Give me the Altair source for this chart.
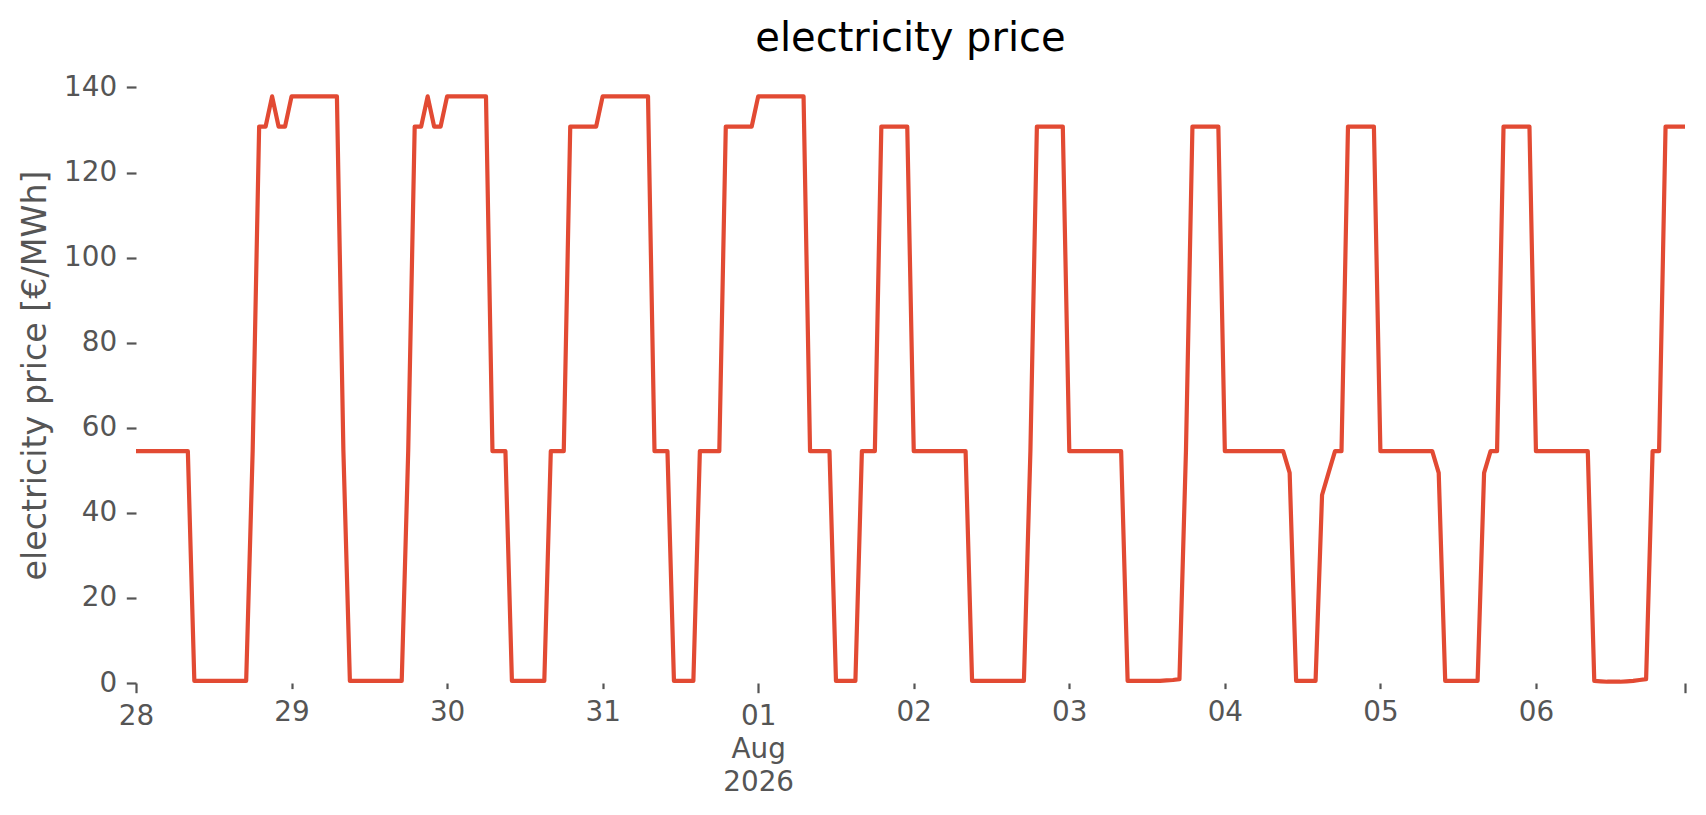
import altair as alt
import pandas as pd

# hourly electricity price [€/MWh], one list per day (00:00 ... 23:00)
start = "2026-07-28 00:00"
jul28 = [54.5, 54.5, 54.5, 54.5, 54.5, 54.5, 54.5, 54.5, 54.5, 0.5, 0.5, 0.5,
         0.5, 0.5, 0.5, 0.5, 0.5, 0.5, 54.5, 130.8, 130.8, 137.9, 130.8, 130.8]
jul29 = [137.9, 137.9, 137.9, 137.9, 137.9, 137.9, 137.9, 137.9, 54.5, 0.5, 0.5, 0.5,
         0.5, 0.5, 0.5, 0.5, 0.5, 0.5, 54.5, 130.8, 130.8, 137.9, 130.8, 130.8]
jul30 = [137.9, 137.9, 137.9, 137.9, 137.9, 137.9, 137.9, 54.5, 54.5, 54.5, 0.5, 0.5,
         0.5, 0.5, 0.5, 0.5, 54.5, 54.5, 54.5, 130.8, 130.8, 130.8, 130.8, 130.8]
jul31 = [137.9, 137.9, 137.9, 137.9, 137.9, 137.9, 137.9, 137.9, 54.5, 54.5, 54.5, 0.5,
         0.5, 0.5, 0.5, 54.5, 54.5, 54.5, 54.5, 130.8, 130.8, 130.8, 130.8, 130.8]
aug01 = [137.9, 137.9, 137.9, 137.9, 137.9, 137.9, 137.9, 137.9, 54.5, 54.5, 54.5, 54.5,
         0.5, 0.5, 0.5, 0.5, 54.5, 54.5, 54.5, 130.8, 130.8, 130.8, 130.8, 130.8]
aug02 = [54.5, 54.5, 54.5, 54.5, 54.5, 54.5, 54.5, 54.5, 54.5, 0.5, 0.5, 0.5,
         0.5, 0.5, 0.5, 0.5, 0.5, 0.5, 54.5, 130.8, 130.8, 130.8, 130.8, 130.8]
aug03 = [54.5, 54.5, 54.5, 54.5, 54.5, 54.5, 54.5, 54.5, 54.5, 0.5, 0.5, 0.5,
         0.5, 0.5, 0.5, 0.6, 0.7, 0.9, 54.5, 130.8, 130.8, 130.8, 130.8, 130.8]
aug04 = [54.5, 54.5, 54.5, 54.5, 54.5, 54.5, 54.5, 54.5, 54.5, 54.5, 49.4, 0.5,
         0.5, 0.5, 0.5, 44.2, 49.4, 54.5, 54.5, 130.8, 130.8, 130.8, 130.8, 130.8]
aug05 = [54.5, 54.5, 54.5, 54.5, 54.5, 54.5, 54.5, 54.5, 54.5, 49.4, 0.5, 0.5,
         0.5, 0.5, 0.5, 0.5, 49.4, 54.5, 54.5, 130.8, 130.8, 130.8, 130.8, 130.8]
aug06 = [54.5, 54.5, 54.5, 54.5, 54.5, 54.5, 54.5, 54.5, 54.5, 0.5, 0.4, 0.3,
         0.3, 0.3, 0.4, 0.5, 0.7, 0.9, 54.5, 54.5, 130.8, 130.8, 130.8, 130.8]

y_ticks = [0, 20, 40, 60, 80, 100, 120, 140]
tick_months = [7, 7, 7, 7, 8, 8, 8, 8, 8, 8]
tick_dates = [28, 29, 30, 31, 1, 2, 3, 4, 5, 6]

days = [jul28, jul29, jul30, jul31, aug01, aug02, aug03, aug04, aug05, aug06]
prices = [v for d in days for v in d]
times = pd.date_range(start, periods=len(prices), freq="h")
df = pd.DataFrame({"time": times.strftime("%Y-%m-%dT%H:%M:%S"), "price": prices})

x_values = [alt.DateTime(year=2026, month=m, date=d, hours=0)
            for m, d in zip(tick_months, tick_dates)]
x_values.append(alt.DateTime(year=2026, month=8, date=6, hours=23))

major_test = ("hours(datum.value) == 23 || date(datum.value) == 1 || "
              "(month(datum.value) == 6 && date(datum.value) == 28)")

label_expr = ("hours(datum.value) == 23 ? '' : "
              "(date(datum.value) == 1 ? [timeFormat(datum.value, '%d'), "
              "timeFormat(datum.value, '%b'), timeFormat(datum.value, '%Y')] : "
              "timeFormat(datum.value, '%d'))")

GREY = "#555555"
FONT = "DejaVu Sans"

chart = alt.Chart(df).mark_line(
    color="#E24A33", strokeWidth=4.2, strokeJoin="round"
).encode(
    x=alt.X(
        "time:T",
        scale=alt.Scale(
            domain=[alt.DateTime(year=2026, month=7, date=28, hours=0),
                    alt.DateTime(year=2026, month=8, date=6, hours=23)],
            nice=False,
        ),
        axis=alt.Axis(
            values=x_values,
            labelExpr=label_expr,
            title=None,
            domain=False,
            grid=False,
            tickColor=GREY,
            tickWidth=2.2,
            tickSize={"condition": {"test": major_test, "value": 9.7}, "value": 5.6},
            labelPadding={"condition": {"test": major_test, "value": 9.7}, "value": 9.7},
            labelColor=GREY,
            labelFontSize=27.8,
            labelFont=FONT,
            labelLineHeight=33,
            labelAngle=0,
            labelOverlap=False,
            labelFlush=False,
        ),
    ),
    y=alt.Y(
        "price:Q",
        scale=alt.Scale(domain=[0, 144.8], nice=False, zero=True),
        axis=alt.Axis(
            values=y_ticks,
            title="electricity price [€/MWh]",
            titleFontSize=33.3,
            titleFont=FONT,
            titleColor=GREY,
            titleFontWeight="normal",
            titlePadding=11,
            domain=False,
            grid=False,
            tickColor=GREY,
            tickWidth=2.2,
            tickSize=9.7,
            labelPadding=9.7,
            labelColor=GREY,
            labelFontSize=27.8,
            labelFont=FONT,
        ),
    ),
).properties(
    width=1549,
    height=616,
    title=alt.TitleParams(
        "electricity price", fontSize=40, font=FONT, fontWeight="normal",
        color="black", anchor="middle", offset=8,
    ),
    autosize=alt.AutoSizeParams(type="none"),
    padding={"left": 128, "top": 59, "right": 12, "bottom": 120},
).configure(background="white").configure_view(stroke=None, strokeWidth=0)

chart.save("out.html", embed_options={"renderer": "svg", "actions": False})
